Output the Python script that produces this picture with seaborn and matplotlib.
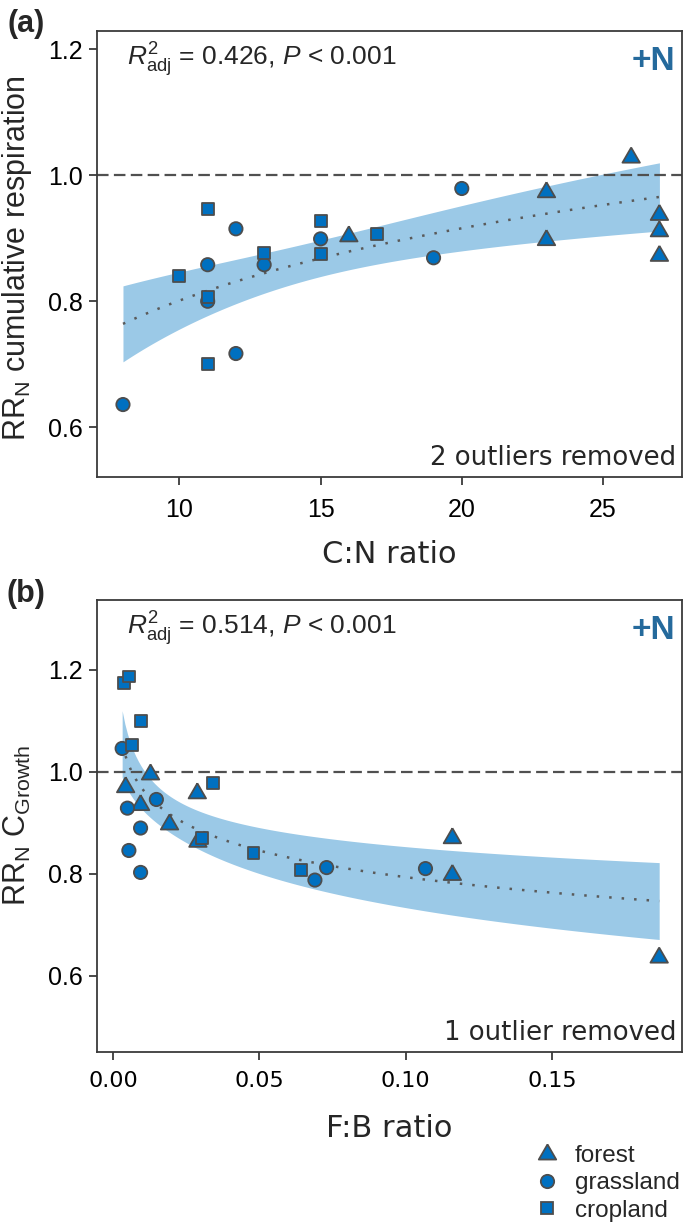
import numpy as np
import pandas as pd
import matplotlib
matplotlib.use("Agg")
import matplotlib.pyplot as plt
import seaborn as sns
from matplotlib.lines import Line2D

# ---------------- data ----------------
# Panel (a): C:N ratio vs RR_N cumulative respiration
a_forest_x = [16, 23, 23, 26, 27, 27, 27]
a_forest_y = [0.903, 0.973, 0.897, 1.028, 0.937, 0.911, 0.872]
a_grass_x = [8, 11, 11, 12, 12, 13, 15, 19, 20]
a_grass_y = [0.636, 0.858, 0.800, 0.915, 0.717, 0.858, 0.899, 0.869, 0.979]
a_crop_x = [10, 11, 11, 11, 13, 15, 15, 17]
a_crop_y = [0.840, 0.946, 0.807, 0.700, 0.877, 0.927, 0.875, 0.907]

# Panel (b): F:B ratio vs RR_N C_Growth
b_forest_x = [0.0128, 0.0043, 0.0288, 0.0094, 0.0193, 0.0290, 0.116, 0.116, 0.1867]
b_forest_y = [0.995, 0.970, 0.958, 0.935, 0.897, 0.863, 0.798, 0.870, 0.636]
b_grass_x = [0.0031, 0.0049, 0.0148, 0.0094, 0.0054, 0.0094, 0.069, 0.073, 0.1068]
b_grass_y = [1.046, 0.929, 0.946, 0.890, 0.846, 0.803, 0.788, 0.8125, 0.8105]
b_crop_x = [0.0037, 0.0054, 0.0096, 0.0066, 0.034, 0.0304, 0.048, 0.0644]
b_crop_y = [1.175, 1.187, 1.099, 1.052, 0.979, 0.871, 0.842, 0.807]

habitats = ["forest", "grassland", "cropland"]
a_ticks_x = [10, 15, 20, 25]
b_ticks_x = [0.00, 0.05, 0.10, 0.15]
ticks_y = [0.6, 0.8, 1.0, 1.2]
a_stats = r"$R^2_{\mathrm{adj}}$ = 0.426, $P$ < 0.001"
b_stats = r"$R^2_{\mathrm{adj}}$ = 0.514, $P$ < 0.001"


def frame(xs, ys):
    rows = []
    for hab, x, y in zip(habitats, xs, ys):
        for xi, yi in zip(x, y):
            rows.append({"x": xi, "y": yi, "habitat": hab})
    return pd.DataFrame(rows)


df_a = frame([a_forest_x, a_grass_x, a_crop_x], [a_forest_y, a_grass_y, a_crop_y])
df_b = frame([b_forest_x, b_grass_x, b_crop_x], [b_forest_y, b_grass_y, b_crop_y])

# ---------------- style ----------------
sns.set_theme(style="ticks")
plt.rcParams["font.family"] = ["Liberation Sans", "DejaVu Sans"]
plt.rcParams["mathtext.fontset"] = "custom"
plt.rcParams["mathtext.rm"] = "Liberation Sans"
plt.rcParams["mathtext.it"] = "Liberation Sans:italic"
plt.rcParams["mathtext.bf"] = "Liberation Sans:bold"

BLUE = "#0070c0"
EDGE = "#4d4d4d"
BAND = "#9bc9e7"
FRAME = "#3a3a3a"
NCOL = "#256a9c"
T_CRIT = 2.07

# triangle with centroid at the origin (as in R pch 24)
TRI = [(0.0, 1.555), (-1.347, -0.778), (1.347, -0.778), (0.0, 1.555)]
MARKERS = {"forest": TRI, "grassland": "o", "cropland": "s"}
SIZES = {"forest": 210, "grassland": 92, "cropland": 74}

W, H = 685, 1231
fig = plt.figure(figsize=(W / 100, H / 100), dpi=100)


def px_axes(left, top, right, bottom):
    return fig.add_axes([left / W, 1 - bottom / H, (right - left) / W, (bottom - top) / H])


ax_a = px_axes(97, 31, 682, 477)
ax_b = px_axes(97, 600, 682, 1052)


def log_fit(x, y):
    x = np.asarray(x, float)
    y = np.asarray(y, float)
    lx = np.log(x)
    b, a = np.polyfit(lx, y, 1)
    n = len(x)
    resid = y - (a + b * lx)
    s = np.sqrt(np.sum(resid ** 2) / (n - 2))
    sxx = np.sum((lx - lx.mean()) ** 2)
    grid = np.linspace(x.min(), x.max(), 200)
    lg = np.log(grid)
    pred = a + b * lg
    se = s * np.sqrt(1 / n + (lg - lx.mean()) ** 2 / sxx)
    return grid, pred, pred - T_CRIT * se, pred + T_CRIT * se


def draw_panel(ax, df, xlim, ylim, xticks, xtick_pad):
    grid, pred, lo, hi = log_fit(df["x"], df["y"])
    ax.fill_between(grid, lo, hi, color=BAND, lw=0, zorder=1)
    ax.axhline(1.0, color="#505050", lw=1.6, dashes=(5.2, 2.4), zorder=2)
    sns.lineplot(x=grid, y=pred, color="#5a5a5a", lw=1.8, ax=ax, zorder=3)
    ax.lines[-1].set_dashes((1, 4))
    sns.scatterplot(data=df, x="x", y="y", style="habitat", markers=MARKERS,
                    size="habitat", sizes=SIZES, color=BLUE, edgecolor=EDGE,
                    linewidth=1.3, legend=False, ax=ax, zorder=4)
    ax.set_xlim(*xlim)
    ax.set_ylim(*ylim)
    ax.set_xticks(xticks)
    ax.set_yticks(ticks_y)
    ax.set_yticklabels([f"{v:.1f}" for v in ticks_y], fontsize=18)
    ax.set_xlabel("")
    ax.set_ylabel("")
    for sp in ax.spines.values():
        sp.set_visible(True)
        sp.set_color(FRAME)
        sp.set_linewidth(1.3)
    ax.tick_params(axis="both", colors=FRAME, width=1.3, length=5.5)
    ax.tick_params(axis="y", pad=5, labelcolor="black")
    ax.tick_params(axis="x", pad=xtick_pad, labelcolor="black")


draw_panel(ax_a, df_a, (7.08, 27.8), (0.521, 1.229), a_ticks_x, 9.5)
ax_a.set_xticklabels([str(v) for v in a_ticks_x], fontfamily="Liberation Sans", fontsize=18)
draw_panel(ax_b, df_b, (-0.0055, 0.1945), (0.451, 1.337), b_ticks_x, 8)
ax_b.set_xticklabels([f"{v:.2f}" for v in b_ticks_x], fontfamily="DejaVu Sans", fontsize=16)


def ftext(x, y, s, **kw):
    fig.text(x / W, 1 - y / H, s, **kw)


# panel letters
ftext(26, 24, "(a)", fontsize=22, fontweight="bold", ha="center", va="center")
ftext(26, 594, "(b)", fontsize=22, fontweight="bold", ha="center", va="center")

# statistics
ftext(127, 66, a_stats, fontsize=19, ha="left", va="baseline")
ftext(127, 635, b_stats, fontsize=19, ha="left", va="baseline")
ftext(675, 70, "+N", fontsize=24, fontweight="bold", color=NCOL, ha="right", va="baseline")
ftext(675, 639, "+N", fontsize=24, fontweight="bold", color=NCOL, ha="right", va="baseline")

# outlier notes
ftext(676, 465, "2 outliers removed", fontsize=18.7, family="DejaVu Sans", ha="right", va="baseline")
ftext(676, 1040, "1 outlier removed", fontsize=18.7, family="DejaVu Sans", ha="right", va="baseline")

# axis titles
ftext(389.5, 563, "C:N ratio", fontsize=22, family="DejaVu Sans", ha="center", va="baseline")
ftext(389.5, 1137, "F:B ratio", fontsize=22, family="DejaVu Sans", ha="center", va="baseline")
ftext(17, 258, r"RR$_{\mathrm{N}}$ cumulative respiration", fontsize=22, rotation=90,
      ha="center", va="center")
ftext(17, 826, r"RR$_{\mathrm{N}}$ C$_{\mathrm{Growth}}$", fontsize=22, rotation=90,
      ha="center", va="center")

# legend
handles = [Line2D([], [], linestyle="none", marker=MARKERS[h], markersize=np.sqrt(SIZES[h]),
                  markerfacecolor=BLUE, markeredgecolor=EDGE, markeredgewidth=1.3)
           for h in habitats]
fig.legend(handles, habitats, loc="upper left", bbox_to_anchor=(532 / W, 1 - 1145 / H),
           frameon=False, fontsize=17.5, handletextpad=0.55, labelspacing=0.22,
           borderaxespad=0, borderpad=0, handlelength=1.2)

fig.savefig("out.png", dpi=100)
